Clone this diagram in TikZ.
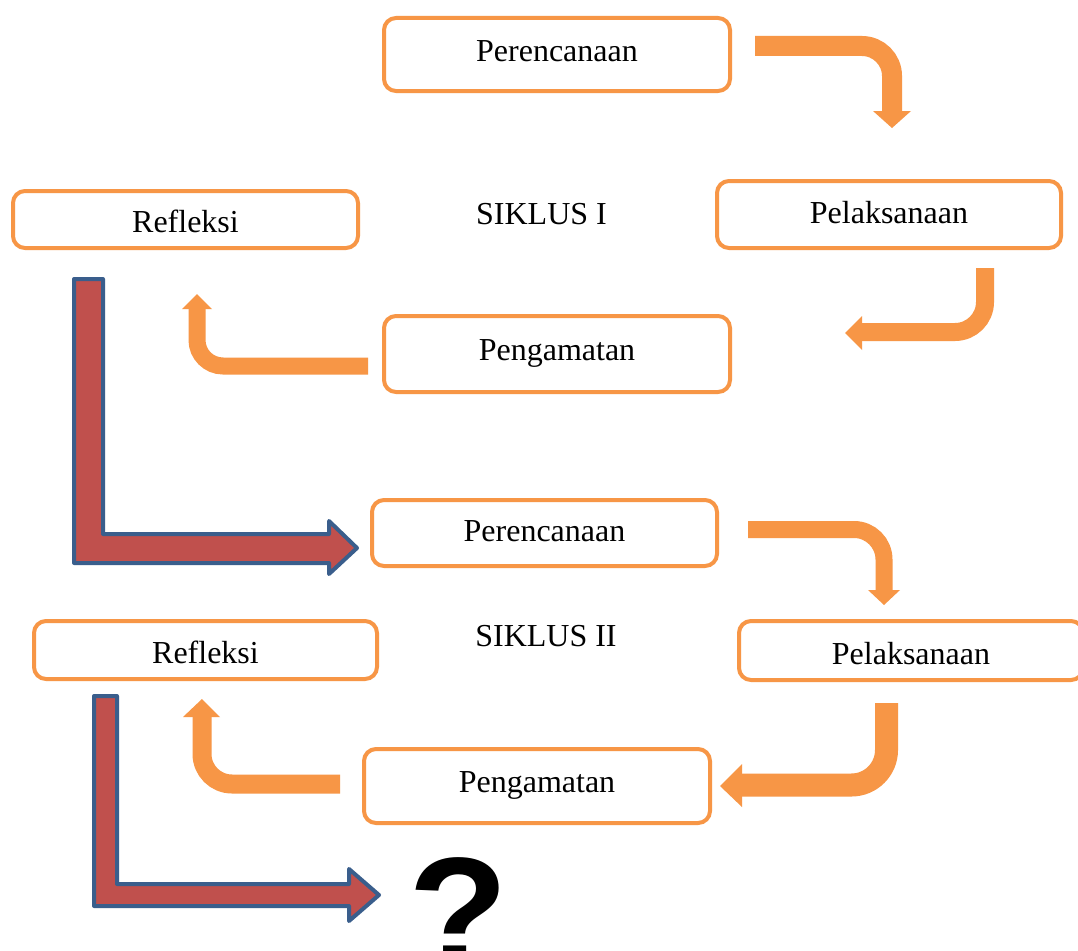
\documentclass[tikz,border=0pt]{standalone}
\usepackage{fontspec}
\setmainfont{Liberation Serif}
\newfontfamily\qfont{Liberation Sans}
\definecolor{oaccent}{HTML}{F79646}
\definecolor{raccent}{HTML}{C0504D}
\definecolor{boutline}{HTML}{3A5E8C}
\begin{document}
\begin{tikzpicture}[x=1pt,y=-1pt,
  stagebox/.style={draw=oaccent,line width=4pt,rounded corners=12pt,fill=white,inner sep=0pt},
  lbl/.style={inner sep=0pt,font=\fontsize{32}{38}\selectfont},
  oband/.style={draw=oaccent,line cap=butt},
  ohead/.style={fill=oaccent},
  redL/.style={fill=raccent,draw=boutline,line width=4pt,line join=round}]
\clip (0,0) rectangle (1078,950);
\fill[white] (0,0) rectangle (1078,950);

% ---------- SIKLUS I ----------
\node[stagebox,minimum width=346pt,minimum height=73pt] (p1box) at (557,54.5) {};
\node[stagebox,minimum width=344pt,minimum height=67pt] (l1box) at (889,214.5) {};
\node[stagebox,minimum width=345pt,minimum height=57pt] (r1box) at (185.5,219.5) {};
\node[stagebox,minimum width=346pt,minimum height=76pt] (g1box) at (557,354) {};
\node[lbl] (p1) at (557,51.5) {Perencanaan};
\node[lbl] (l1) at (889,212.5) {Pelaksanaan};
\node[lbl] (r1) at (185.5,221.5) {Refleksi};
\node[lbl] (g1) at (557,353) {Pengamatan};
\node[lbl] (s1) at (541.5,214) {SIKLUS I};

% curved arrows cycle I
\coordinate (a1s) at (755,46);
\coordinate (a1c) at (892,46);
\coordinate (a1e) at (892,112);
\draw[oband,line width=20pt,rounded corners=30pt] (a1s) -- (a1c) -- (a1e);
\fill[ohead] (873,111) -- (911,111) -- (892,128) -- cycle;

\coordinate (b1s) at (985,268);
\coordinate (b1c) at (985,332);
\coordinate (b1e) at (861,332);
\draw[oband,line width=18pt,rounded corners=30pt] (b1s) -- (b1c) -- (b1e);
\fill[ohead] (862,316) -- (862,350) -- (845,333) -- cycle;

\coordinate (c1s) at (368,366);
\coordinate (c1c) at (197,366);
\coordinate (c1e) at (197,308);
\draw[oband,line width=17pt,rounded corners=26pt] (c1s) -- (c1c) -- (c1e);
\fill[ohead] (182,309) -- (212,309) -- (197,294) -- cycle;

% red L arrow I -> II
\draw[redL] (74,279) -- (103,279) -- (103,534) -- (329,534) -- (329,521)
  -- (357,548) -- (329,574) -- (329,563) -- (74,563) -- cycle;

% ---------- SIKLUS II ----------
\node[stagebox,minimum width=345pt,minimum height=66pt] (p2box) at (544.5,533) {};
\node[stagebox,minimum width=344pt,minimum height=59pt] (l2box) at (911,650.5) {};
\node[stagebox,minimum width=343pt,minimum height=58pt] (r2box) at (205.5,650) {};
\node[stagebox,minimum width=346pt,minimum height=74pt] (g2box) at (537,786) {};
\node[lbl] (p2) at (544.5,531) {Perencanaan};
\node[lbl] (l2) at (911,653.5) {Pelaksanaan};
\node[lbl] (r2) at (205.5,652) {Refleksi};
\node[lbl] (g2) at (537,785) {Pengamatan};
\node[lbl] (s2) at (546,636) {SIKLUS II};

\coordinate (a2s) at (748,529.5);
\coordinate (a2c) at (884,529.5);
\coordinate (a2e) at (884,591);
\draw[oband,line width=17pt,rounded corners=30pt] (a2s) -- (a2c) -- (a2e);
\fill[ohead] (868,590) -- (900,590) -- (884,605) -- cycle;

\coordinate (b2s) at (886.5,703);
\coordinate (b2c) at (886.5,785);
\coordinate (b2e) at (741,785);
\draw[oband,line width=23pt,rounded corners=35pt] (b2s) -- (b2c) -- (b2e);
\fill[ohead] (742,764) -- (742,807) -- (720,786) -- cycle;

\coordinate (c2s) at (340,784);
\coordinate (c2c) at (202,784);
\coordinate (c2e) at (202,716);
\draw[oband,line width=19pt,rounded corners=30pt] (c2s) -- (c2c) -- (c2e);
\fill[ohead] (183,717) -- (220,717) -- (202,699) -- cycle;

% red L arrow II -> ?
\draw[redL] (94,696) -- (117,696) -- (117,884) -- (349,884) -- (349,869)
  -- (379,895) -- (349,921) -- (349,906) -- (94,906) -- cycle;

\node[inner sep=0pt,anchor=north,xscale=1.05,font=\qfont\bfseries\fontsize{156}{164}\selectfont] (q) at (459,857) {?};
\end{tikzpicture}
\end{document}
